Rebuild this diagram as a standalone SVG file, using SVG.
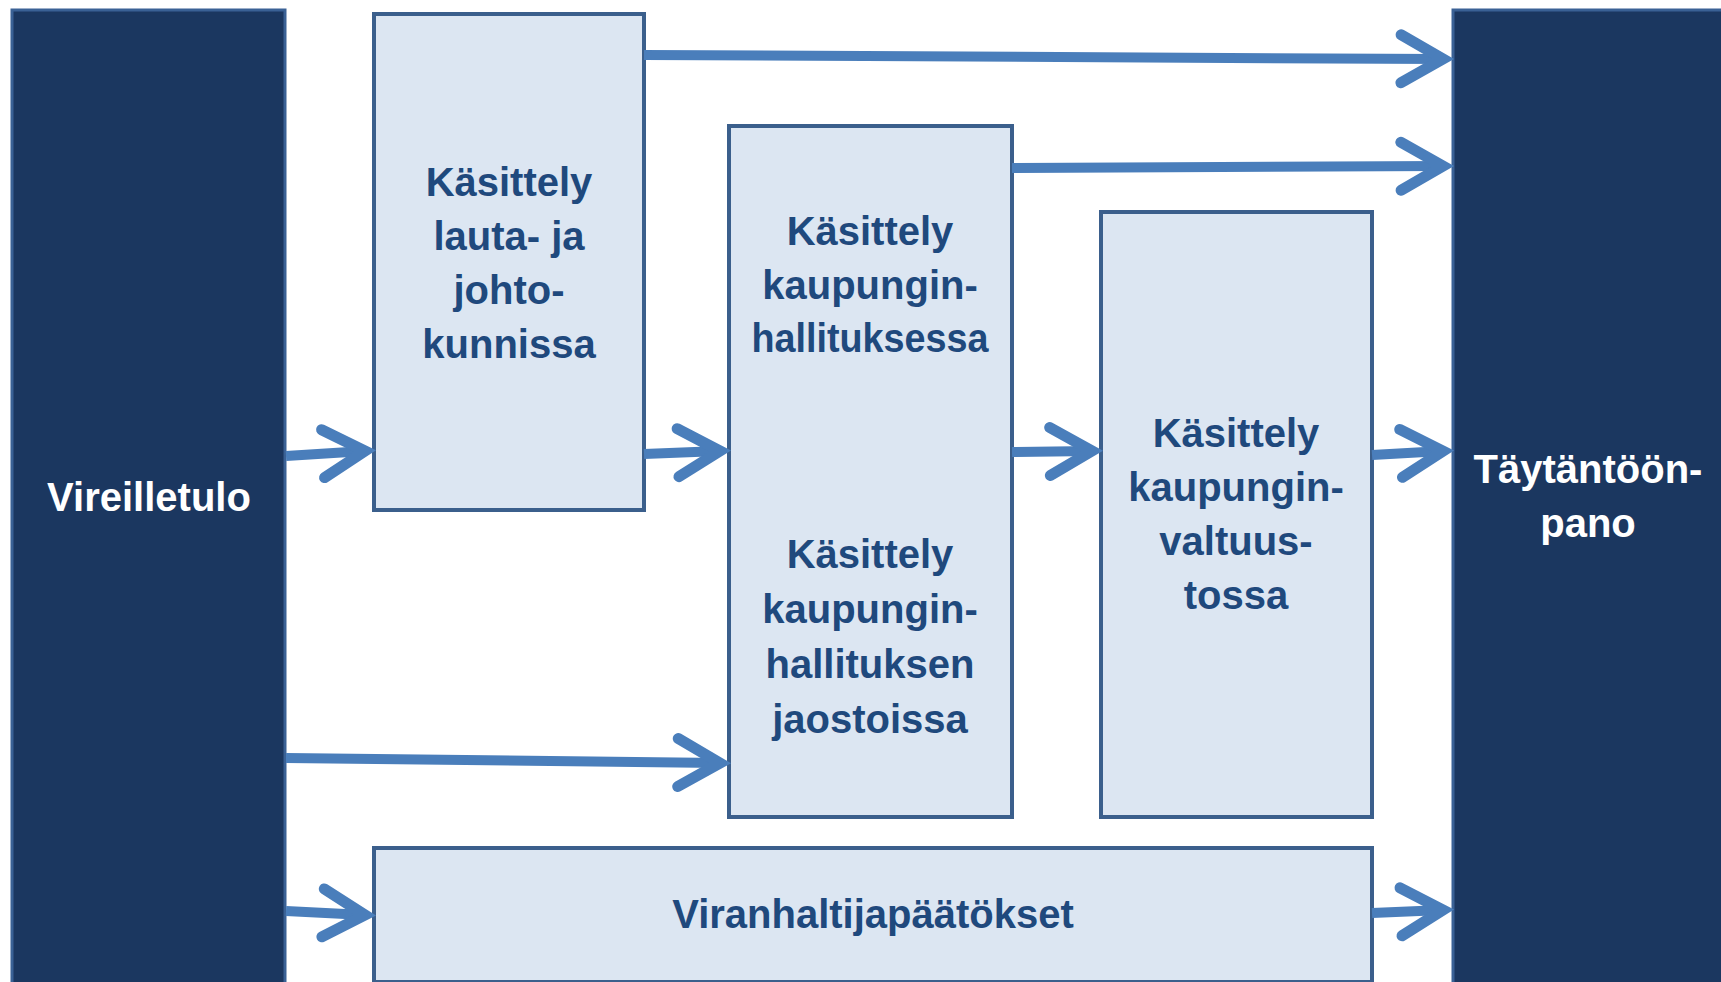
<svg xmlns="http://www.w3.org/2000/svg" width="1721" height="982" viewBox="0 0 1721 982">
<defs>
<style>
.dark{fill:#1b3760;stroke:#3a6195;stroke-width:3}
.light{fill:#dce6f2;stroke:#3b5f8c;stroke-width:4}
.tw{font-family:"Liberation Sans",Arial,sans-serif;font-weight:bold;font-size:40px;fill:#ffffff;text-anchor:middle}
.tb{font-family:"Liberation Sans",Arial,sans-serif;font-weight:bold;font-size:40px;fill:#1f497d;text-anchor:middle}
.conn{fill:none;stroke:#4a7ebb;stroke-width:10;marker-end:url(#arr)}
</style>
<marker id="arr" markerUnits="userSpaceOnUse" markerWidth="80" markerHeight="80" viewBox="-60 -40 80 80" refX="0" refY="0" orient="auto" overflow="visible">
<path d="M-42,-24 L0,0 L-42,24" fill="none" stroke="#4a7ebb" stroke-width="11" stroke-linecap="round" stroke-linejoin="miter"/>
</marker>
</defs>
<rect width="1721" height="982" fill="#ffffff"/>
<g id="vireilletulo">
<rect class="dark" x="12" y="10" width="273" height="990"/>
<text class="tw" x="149" y="511">Vireilletulo</text>
</g>
<g id="taytantoonpano">
<rect class="dark" x="1453" y="10" width="290" height="990"/>
<text class="tw" x="1588" y="483">Täytäntöön-</text>
<text class="tw" x="1588" y="537">pano</text>
</g>
<g id="lautakunnat">
<rect class="light" x="374" y="14" width="270" height="496"/>
<text class="tb" x="509" y="196">Käsittely</text>
<text class="tb" x="509" y="250">lauta- ja</text>
<text class="tb" x="509" y="304">johto-</text>
<text class="tb" x="509" y="358">kunnissa</text>
</g>
<g id="kaupunginhallitus">
<rect class="light" x="729" y="126" width="283" height="691"/>
<text class="tb" x="870" y="245">Käsittely</text>
<text class="tb" x="870" y="299">kaupungin-</text>
<text class="tb" x="870" y="352" textLength="237" lengthAdjust="spacingAndGlyphs">hallituksessa</text>
<text class="tb" x="870" y="568">Käsittely</text>
<text class="tb" x="870" y="623">kaupungin-</text>
<text class="tb" x="870" y="678">hallituksen</text>
<text class="tb" x="870" y="733">jaostoissa</text>
</g>
<g id="kaupunginvaltuusto">
<rect class="light" x="1101" y="212" width="271" height="605"/>
<text class="tb" x="1236" y="447">Käsittely</text>
<text class="tb" x="1236" y="501">kaupungin-</text>
<text class="tb" x="1236" y="555">valtuus-</text>
<text class="tb" x="1236" y="609">tossa</text>
</g>
<g id="viranhaltijapaatokset">
<rect class="light" x="374" y="848" width="998" height="134"/>
<text class="tb" x="873" y="928">Viranhaltijapäätökset</text>
</g>
<g id="connectors">
<path class="conn" d="M644,55 L1443,59"/>
<path class="conn" d="M1012,168 L1443,166"/>
<path class="conn" d="M286,456 L365,451"/>
<path class="conn" d="M644,454 L720,451"/>
<path class="conn" d="M1012,452 L1092,451"/>
<path class="conn" d="M1372,455 L1443,451"/>
<path class="conn" d="M286,758 L720,763"/>
<path class="conn" d="M286,911 L365,915"/>
<path class="conn" d="M1372,913 L1443,910"/>
</g>
</svg>
